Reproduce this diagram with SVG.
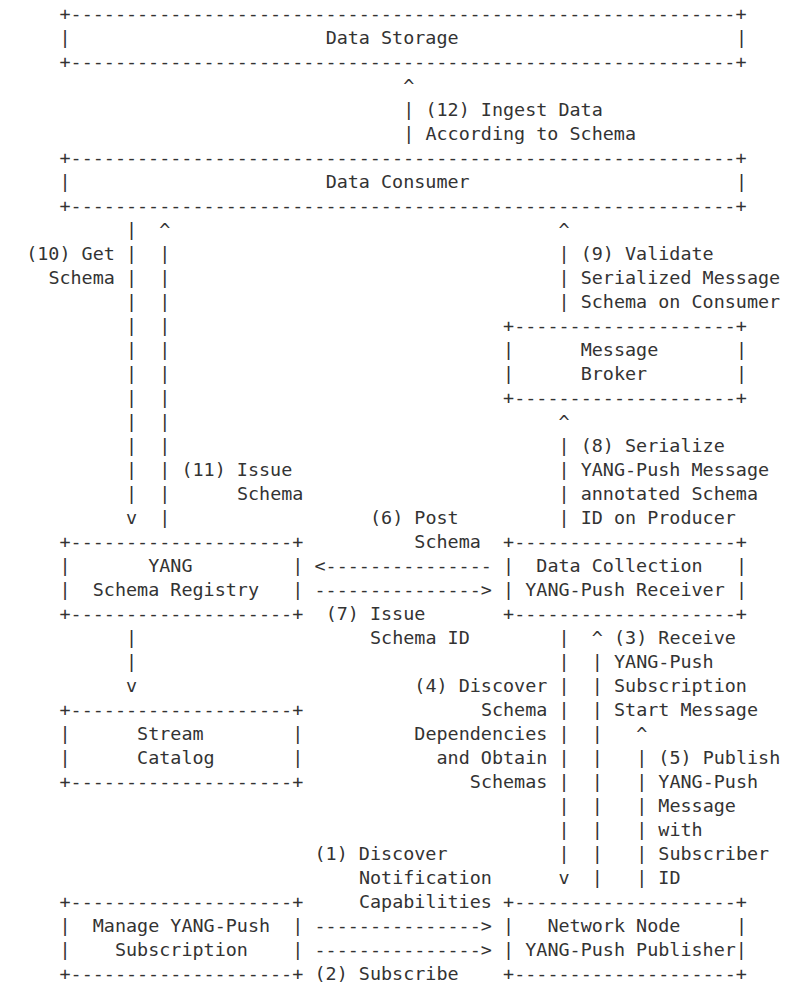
<svg xmlns="http://www.w3.org/2000/svg" width="805" height="983" viewBox="0 0 805 983">
<style>
text{font-family:"DejaVu Sans Mono","Liberation Mono",monospace;font-size:18.42px;fill:#333;white-space:pre}
</style>
<rect width="805" height="983" fill="#fff"/>
<g id="data-storage">
<text x="59.47" y="20.3">+------------------------------------------------------------+</text>
<text x="59.47" y="44.3">|</text><text x="735.96" y="44.3">|</text>
<text x="325.63" y="44.3">Data Storage</text>
<text x="59.47" y="68.3">+------------------------------------------------------------+</text>
</g>
<g id="data-consumer">
<text x="59.47" y="164.3">+------------------------------------------------------------+</text>
<text x="59.47" y="188.3">|</text><text x="735.96" y="188.3">|</text>
<text x="325.63" y="188.3">Data Consumer</text>
<text x="59.47" y="212.3">+------------------------------------------------------------+</text>
</g>
<g id="message-broker">
<text x="503.07" y="332.3">+--------------------+</text>
<text x="503.07" y="356.3">|</text><text x="735.96" y="356.3">|</text>
<text x="503.07" y="380.3">|</text><text x="735.96" y="380.3">|</text>
<text x="580.7" y="356.3">Message</text>
<text x="580.7" y="380.3">Broker</text>
<text x="503.07" y="404.3">+--------------------+</text>
</g>
<g id="schema-registry">
<text x="59.47" y="548.3">+--------------------+</text>
<text x="59.47" y="572.3">|</text><text x="292.36" y="572.3">|</text>
<text x="59.47" y="596.3">|</text><text x="292.36" y="596.3">|</text>
<text x="148.19" y="572.3">YANG</text>
<text x="92.74" y="596.3">Schema Registry</text>
<text x="59.47" y="620.3">+--------------------+</text>
</g>
<g id="data-collection">
<text x="503.07" y="548.3">+--------------------+</text>
<text x="503.07" y="572.3">|</text><text x="735.96" y="572.3">|</text>
<text x="503.07" y="596.3">|</text><text x="735.96" y="596.3">|</text>
<text x="536.34" y="572.3">Data Collection</text>
<text x="525.25" y="596.3">YANG-Push Receiver</text>
<text x="503.07" y="620.3">+--------------------+</text>
</g>
<g id="stream-catalog">
<text x="59.47" y="716.3">+--------------------+</text>
<text x="59.47" y="740.3">|</text><text x="292.36" y="740.3">|</text>
<text x="59.47" y="764.3">|</text><text x="292.36" y="764.3">|</text>
<text x="137.1" y="740.3">Stream</text>
<text x="137.1" y="764.3">Catalog</text>
<text x="59.47" y="788.3">+--------------------+</text>
</g>
<g id="manage-subscription">
<text x="59.47" y="908.3">+--------------------+</text>
<text x="59.47" y="932.3">|</text><text x="292.36" y="932.3">|</text>
<text x="59.47" y="956.3">|</text><text x="292.36" y="956.3">|</text>
<text x="92.74" y="932.3">Manage YANG-Push</text>
<text x="114.92" y="956.3">Subscription</text>
<text x="59.47" y="980.3">+--------------------+</text>
</g>
<g id="network-node">
<text x="503.07" y="908.3">+--------------------+</text>
<text x="503.07" y="932.3">|</text><text x="735.96" y="932.3">|</text>
<text x="503.07" y="956.3">|</text>
<text x="547.43" y="932.3">Network Node</text>
<text x="525.25" y="956.3">YANG-Push Publisher|</text>
<text x="503.07" y="980.3">+--------------------+</text>
</g>
<g id="connectors">
<!-- (12) -->
<text x="403.26" y="92.3">^<tspan x="403.26" dy="24">|</tspan><tspan x="403.26" dy="24">|</tspan></text>
<text x="425.44" y="116.3">(12) Ingest Data<tspan x="425.44" dy="24">According to Schema</tspan></text>
<!-- (10) -->
<text x="126.01" y="236.3">|<tspan x="126.01" dy="24">|</tspan><tspan x="126.01" dy="24">|</tspan><tspan x="126.01" dy="24">|</tspan><tspan x="126.01" dy="24">|</tspan><tspan x="126.01" dy="24">|</tspan><tspan x="126.01" dy="24">|</tspan><tspan x="126.01" dy="24">|</tspan><tspan x="126.01" dy="24">|</tspan><tspan x="126.01" dy="24">|</tspan><tspan x="126.01" dy="24">|</tspan><tspan x="126.01" dy="24">|</tspan><tspan x="126.01" dy="24">v</tspan></text>
<text x="26.2" y="260.3">(10) Get</text>
<text x="48.38" y="284.3">Schema</text>
<!-- (11) -->
<text x="159.28" y="236.3">^<tspan x="159.28" dy="24">|</tspan><tspan x="159.28" dy="24">|</tspan><tspan x="159.28" dy="24">|</tspan><tspan x="159.28" dy="24">|</tspan><tspan x="159.28" dy="24">|</tspan><tspan x="159.28" dy="24">|</tspan><tspan x="159.28" dy="24">|</tspan><tspan x="159.28" dy="24">|</tspan><tspan x="159.28" dy="24">|</tspan><tspan x="159.28" dy="24">|</tspan><tspan x="159.28" dy="24">|</tspan><tspan x="159.28" dy="24">|</tspan></text>
<text x="181.46" y="476.3">(11) Issue</text>
<text x="236.91" y="500.3">Schema</text>
<!-- (9) -->
<text x="558.52" y="236.3">^<tspan x="558.52" dy="24">|</tspan><tspan x="558.52" dy="24">|</tspan><tspan x="558.52" dy="24">|</tspan></text>
<text x="580.7" y="260.3">(9) Validate<tspan x="580.7" dy="24">Serialized Message</tspan><tspan x="580.7" dy="24">Schema on Consumer</tspan></text>
<!-- (8) -->
<text x="558.52" y="428.3">^<tspan x="558.52" dy="24">|</tspan><tspan x="558.52" dy="24">|</tspan><tspan x="558.52" dy="24">|</tspan><tspan x="558.52" dy="24">|</tspan></text>
<text x="580.7" y="452.3">(8) Serialize<tspan x="580.7" dy="24">YANG-Push Message</tspan><tspan x="580.7" dy="24">annotated Schema</tspan><tspan x="580.7" dy="24">ID on Producer</tspan></text>
<!-- (6) -->
<text x="314.54" y="572.3">&lt;---------------</text>
<text x="369.99" y="524.3">(6) Post</text>
<text x="414.35" y="548.3">Schema</text>
<!-- (7) -->
<text x="314.54" y="596.3">---------------&gt;</text>
<text x="325.63" y="620.3">(7) Issue</text>
<text x="369.99" y="644.3">Schema ID</text>
<!-- registry to catalog -->
<text x="126.01" y="644.3">|<tspan x="126.01" dy="24">|</tspan><tspan x="126.01" dy="24">v</tspan></text>
<!-- (4) -->
<text x="558.52" y="644.3">|<tspan x="558.52" dy="24">|</tspan><tspan x="558.52" dy="24">|</tspan><tspan x="558.52" dy="24">|</tspan><tspan x="558.52" dy="24">|</tspan><tspan x="558.52" dy="24">|</tspan><tspan x="558.52" dy="24">|</tspan><tspan x="558.52" dy="24">|</tspan><tspan x="558.52" dy="24">|</tspan><tspan x="558.52" dy="24">|</tspan><tspan x="558.52" dy="24">v</tspan></text>
<text x="414.35" y="692.3">(4) Discover</text>
<text x="480.89" y="716.3">Schema</text>
<text x="414.35" y="740.3">Dependencies</text>
<text x="436.53" y="764.3">and Obtain</text>
<text x="469.8" y="788.3">Schemas</text>
<!-- (3) -->
<text x="591.79" y="644.3">^<tspan x="591.79" dy="24">|</tspan><tspan x="591.79" dy="24">|</tspan><tspan x="591.79" dy="24">|</tspan><tspan x="591.79" dy="24">|</tspan><tspan x="591.79" dy="24">|</tspan><tspan x="591.79" dy="24">|</tspan><tspan x="591.79" dy="24">|</tspan><tspan x="591.79" dy="24">|</tspan><tspan x="591.79" dy="24">|</tspan><tspan x="591.79" dy="24">|</tspan></text>
<text x="613.97" y="644.3">(3) Receive<tspan x="613.97" dy="24">YANG-Push</tspan><tspan x="613.97" dy="24">Subscription</tspan><tspan x="613.97" dy="24">Start Message</tspan></text>
<!-- (5) -->
<text x="636.15" y="740.3">^<tspan x="636.15" dy="24">|</tspan><tspan x="636.15" dy="24">|</tspan><tspan x="636.15" dy="24">|</tspan><tspan x="636.15" dy="24">|</tspan><tspan x="636.15" dy="24">|</tspan><tspan x="636.15" dy="24">|</tspan></text>
<text x="658.33" y="764.3">(5) Publish<tspan x="658.33" dy="24">YANG-Push</tspan><tspan x="658.33" dy="24">Message</tspan><tspan x="658.33" dy="24">with</tspan><tspan x="658.33" dy="24">Subscriber</tspan><tspan x="658.33" dy="24">ID</tspan></text>
<!-- (1) -->
<text x="314.54" y="932.3">---------------&gt;</text>
<text x="314.54" y="860.3">(1) Discover</text>
<text x="358.9" y="884.3">Notification</text>
<text x="358.9" y="908.3">Capabilities</text>
<!-- (2) -->
<text x="314.54" y="956.3">---------------&gt;</text>
<text x="314.54" y="980.3">(2) Subscribe</text>
</g>
</svg>
